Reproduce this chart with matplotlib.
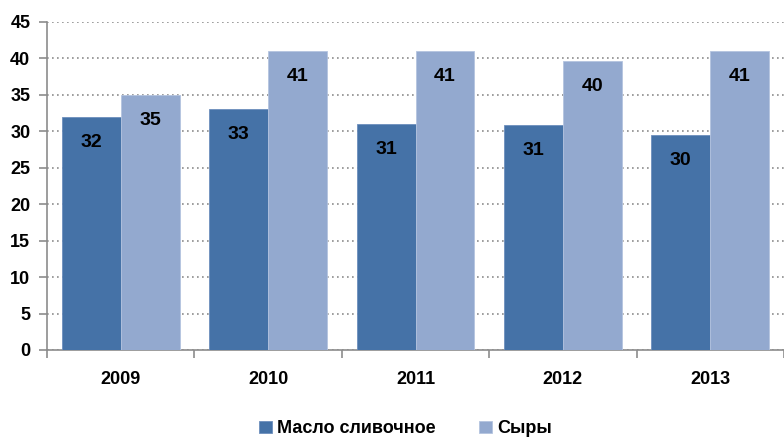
import numpy as np
import matplotlib.pyplot as plt
from matplotlib.ticker import FixedLocator

plt.rcParams['font.family'] = ['Liberation Sans', 'DejaVu Sans']

years = ['2009', '2010', '2011', '2012', '2013']
butter = [32.0, 33.0, 31.0, 30.8, 29.5]
cheese = [35.0, 41.0, 41.0, 39.7, 41.0]
butter_labels = ['32', '33', '31', '31', '30']
cheese_labels = ['35', '41', '41', '40', '41']

c_dark = '#4572a7'
c_light = '#93a9cf'

fig = plt.figure(figsize=(7.84, 4.38), dpi=100)
ax = fig.add_axes([0.060, 0.201, 0.940, 0.749])

x = np.arange(len(years))
w = 0.4
b1 = ax.bar(x - w / 2, butter, w, color=c_dark, edgecolor='#6d8fbd', linewidth=0.6,
            label='Масло сливочное', zorder=3)
b2 = ax.bar(x + w / 2, cheese, w, color=c_light, edgecolor='#b4c4e0', linewidth=0.6,
            label='Сыры', zorder=3)

# подписи значений внутри столбцов, у верхнего края
for bars, labels in ((b1, butter_labels), (b2, cheese_labels)):
    for r, t in zip(bars, labels):
        ax.text(r.get_x() + r.get_width() / 2, r.get_height() - 3.5, t,
                ha='center', va='center', fontsize=14, fontweight='bold', zorder=4)

ax.set_xlim(-0.5, 4.5)
ax.set_ylim(0, 45)
ax.set_yticks(range(0, 46, 5))
ax.set_yticklabels([str(v) for v in range(0, 46, 5)], fontsize=13, fontweight='bold')
ax.yaxis.grid(True, linestyle=(0, (1, 2)), color='#8c8c8c', linewidth=1.2, zorder=0)

ax.set_xticks(x)
ax.set_xticklabels(years, fontsize=13, fontweight='bold')
ax.tick_params(axis='x', which='major', length=0, pad=15)
ax.xaxis.set_minor_locator(FixedLocator(np.arange(-0.5, 5, 1)))
ax.tick_params(axis='x', which='minor', length=6, color='#8c8c8c', width=1.2)
ax.tick_params(axis='y', length=6, color='#8c8c8c', width=1.2, pad=6)

for s in ('top', 'right'):
    ax.spines[s].set_visible(False)
for s in ('left', 'bottom'):
    ax.spines[s].set_color('#8c8c8c')
    ax.spines[s].set_linewidth(1.2)

fig.legend(handles=[b1, b2], loc='center', bbox_to_anchor=(0.517, 0.021), ncol=2,
           frameon=False, prop={'size': 13, 'weight': 'bold'},
           handlelength=0.7, handleheight=0.7, handletextpad=0.3, columnspacing=2.4)

fig.savefig('out.png', dpi=100)
